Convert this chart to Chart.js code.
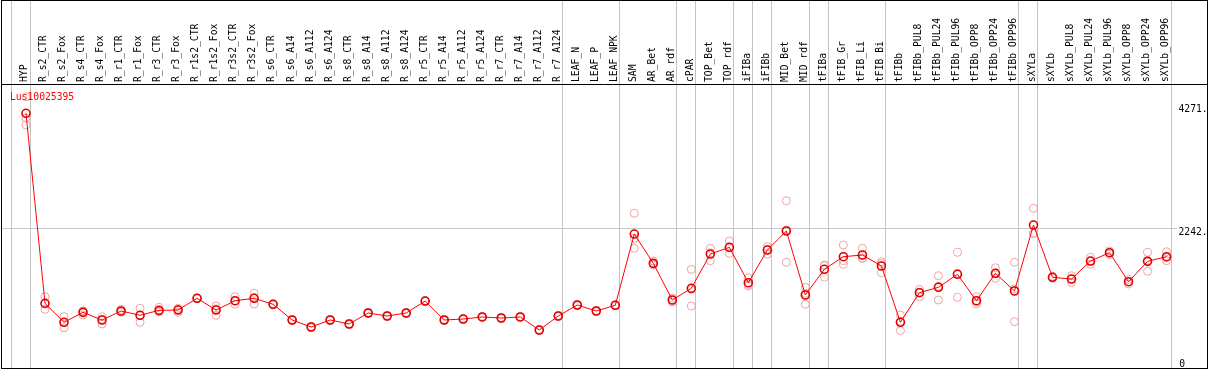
<!DOCTYPE html>
<html>
<head>
<meta charset="utf-8">
<title>Lus10025395</title>
<script src="https://cdn.jsdelivr.net/npm/chart.js@4/dist/chart.umd.min.js"></script>
<style>
body{margin:0;background:#fff;}
canvas{display:block;}
</style>
</head>
<body>
<canvas id="chart" width="1209" height="370"></canvas>
<script>
var geneId = 'Lus10025395';

var categories = ['HYP',
	'R_s2_CTR','R_s2_Fox','R_s4_CTR','R_s4_Fox','R_r1_CTR','R_r1_Fox','R_r3_CTR','R_r3_Fox',
	'R_r1s2_CTR','R_r1s2_Fox','R_r3s2_CTR','R_r3s2_Fox',
	'R_s6_CTR','R_s6_A14','R_s6_A112','R_s6_A124','R_s8_CTR','R_s8_A14','R_s8_A112','R_s8_A124',
	'R_r5_CTR','R_r5_A14','R_r5_A112','R_r5_A124','R_r7_CTR','R_r7_A14','R_r7_A112','R_r7_A124',
	'LEAF_N','LEAF_P','LEAF_NPK','SAM','AR_Bet','AR_rdf','cPAR','TOP_Bet','TOP_rdf','iFIBa','iFIBb',
	'MID_Bet','MID_rdf','tFIBa','tFIB_Gr','tFIB_Li','tFIB_Bi',
	'tFIBb','tFIBb_PUL8','tFIBb_PUL24','tFIBb_PUL96','tFIBb_OPP8','tFIBb_OPP24','tFIBb_OPP96',
	'sXYLa','sXYLb','sXYLb_PUL8','sXYLb_PUL24','sXYLb_PUL96','sXYLb_OPP8','sXYLb_OPP24','sXYLb_OPP96'];

// mean expression per sample
var means = [4146,
	1001, 687, 852, 725, 874, 803, 885, 890,
	1084, 890, 1044, 1084,
	985, 725, 609, 725, 659, 841, 791, 841,
	1039, 725, 741, 775, 758, 775, 559, 791,
	973, 874, 968, 2148, 1663, 1056, 1250, 1817, 1928, 1342, 1883,
	2198, 1139, 1564, 1773, 1801, 1619,
	687, 1177, 1266, 1481, 1044, 1498, 1205,
	2297, 1432, 1403, 1701, 1839, 1359, 1696, 1773];

// single replicates per sample
var replicates = [[4420, 3952, 4066],
	[1111, 902, 990], [780, 597, 684], [874, 808, 874], [780, 659, 736],
	[902, 852, 868], [919, 687, 803], [935, 857, 863], [919, 852, 899],
	[1090, 1078, 1084], [957, 803, 910], [1111, 985, 1036], [1167, 990, 1095],
	[995, 975, 985], [735, 715, 725], [620, 598, 609], [735, 715, 725], [670, 648, 659],
	[851, 831, 841], [801, 781, 791], [851, 831, 841],
	[1049, 1029, 1039], [735, 715, 725], [751, 731, 741], [785, 765, 775],
	[768, 748, 758], [785, 765, 775], [569, 549, 559], [801, 781, 791],
	[983, 963, 973], [884, 864, 874], [978, 958, 968],
	[2491, 1912, 2077], [1701, 1635, 1653], [1089, 1023, 1056], [1564, 957, 1229],
	[1912, 1706, 1833], [2032, 1829, 1923], [1425, 1288, 1313], [1938, 1817, 1894],
	[2699, 1680, 2215], [1266, 985, 1166], [1635, 1432, 1625], [1966, 1647, 1706],
	[1912, 1746, 1745], [1690, 1508, 1659],
	[808, 548, 705], [1233, 1111, 1187], [1458, 1056, 1284], [1845, 1101, 1497],
	[1111, 1028, 993], [1590, 1415, 1489], [1680, 697, 1238],
	[2574, 2160, 2157], [1415, 1449, 1432], [1458, 1342, 1409], [1763, 1647, 1693],
	[1869, 1809, 1839], [1398, 1321, 1358], [1845, 1531, 1712], [1855, 1706, 1758]];

var yTicks = [0, 2242, 4271];
// last column of each sample group (-1 is the border before HYP)
var groupEnds = [-1, 0, 28, 31, 34, 35, 37, 38, 39, 41, 42, 45, 52, 53, 60];

var monoFont = { family: 'DejaVu Sans Mono', size: 9.7 };

var meanPoints = means.map(function(v, i){ return { x: i, y: v }; });
var repPoints = [];
replicates.forEach(function(r, i){
	r.forEach(function(v){ repPoints.push({ x: i, y: v }); });
});

// group separators, frame and gene name
var framePlugin = {
	id: 'frame',
	beforeDatasetsDraw: function(chart){
		var c = chart.ctx, a = chart.chartArea, xs = chart.scales.x;
		c.save();
		c.strokeStyle = '#c4c4c4';
		c.lineWidth = 1;
		groupEnds.forEach(function(g){
			var px = Math.round(xs.getPixelForValue(g + 0.21)) + 0.5;
			c.beginPath(); c.moveTo(px, 0); c.lineTo(px, a.bottom); c.stroke();
		});
		c.restore();
	},
	afterDraw: function(chart){
		var c = chart.ctx, a = chart.chartArea, right = chart.width - 1.5;
		c.save();
		c.strokeStyle = '#000';
		c.lineWidth = 1;
		c.strokeRect(a.left + 0.5, 0.5, right - a.left - 0.5, a.bottom - 1);
		c.beginPath(); c.moveTo(a.left, a.top + 0.5); c.lineTo(right, a.top + 0.5); c.stroke();
		c.fillStyle = '#ff0000';
		c.font = monoFont.size + 'px "' + monoFont.family + '"';
		c.textBaseline = 'middle';
		c.fillText(geneId, a.left + 9, a.top + 13);
		c.restore();
	}
};

var yRange = { min: -86, max: 4631 };

function noPad(scale){
	scale.paddingTop = 0; scale.paddingBottom = 0;
	scale.paddingLeft = 0; scale.paddingRight = 0;
}

new Chart(document.getElementById('chart').getContext('2d'), {
	type: 'line',
	data: {
		datasets: [{
			data: meanPoints,
			borderColor: '#ff0000',
			borderWidth: 1,
			pointRadius: 4,
			pointBorderWidth: 1.6,
			pointBorderColor: '#e00000',
			pointBackgroundColor: 'rgba(0,0,0,0)',
			tension: 0,
			order: 0
		}, {
			type: 'scatter',
			data: repPoints,
			showLine: false,
			pointRadius: 4,
			pointBorderWidth: 1,
			pointBorderColor: '#f2a0a0',
			pointBackgroundColor: 'rgba(0,0,0,0)',
			order: 1
		}]
	},
	options: {
		responsive: false,
		animation: false,
		devicePixelRatio: 1,
		layout: { autoPadding: false, padding: { left: 1, right: 1, top: 0, bottom: 1 } },
		plugins: { legend: { display: false }, tooltip: { enabled: false } },
		scales: {
			x: {
				type: 'linear',
				position: 'top',
				min: -1.315,
				max: 60.55,
				grid: { display: false, drawTicks: false },
				border: { display: false },
				afterBuildTicks: function(scale){
					scale.ticks = categories.map(function(c, i){ return { value: i }; });
				},
				afterFit: function(scale){ scale.height = 84; noPad(scale); },
				ticks: {
					autoSkip: false,
					maxRotation: 90,
					minRotation: 90,
					padding: 2,
					labelOffset: 10.5,
					color: '#000',
					font: monoFont,
					callback: function(v){ return categories[v]; }
				}
			},
			y0: {
				position: 'right',
				weight: 0,
				min: yRange.min,
				max: yRange.max,
				border: { display: false },
				grid: { display: false, drawTicks: false },
				afterBuildTicks: function(scale){
					scale.ticks = [{ value: yTicks[0] }];
				},
				afterFit: function(scale){ scale.width = 0; noPad(scale); },
				ticks: {
					mirror: true,
					padding: 8,
					labelOffset: 1,
					color: '#000',
					font: monoFont,
					callback: function(v){ return String(v); }
				}
			},
			y: {
				position: 'right',
				weight: 1,
				min: yRange.min,
				max: yRange.max,
				border: { display: false },
				grid: {
					drawTicks: false,
					color: function(ctx){ return ctx.tick && ctx.tick.value === yTicks[1] ? '#c8c8c8' : 'rgba(0,0,0,0)'; }
				},
				afterBuildTicks: function(scale){
					scale.ticks = yTicks.slice(1).map(function(v){ return { value: v }; });
				},
				afterFit: function(scale){ scale.width = 31; noPad(scale); },
				ticks: {
					padding: 1.5,
					labelOffset: 4,
					color: '#000',
					font: monoFont,
					callback: function(v){ return v + '.'; }
				}
			}
		}
	},
	plugins: [framePlugin]
});
</script>
</body>
</html>
